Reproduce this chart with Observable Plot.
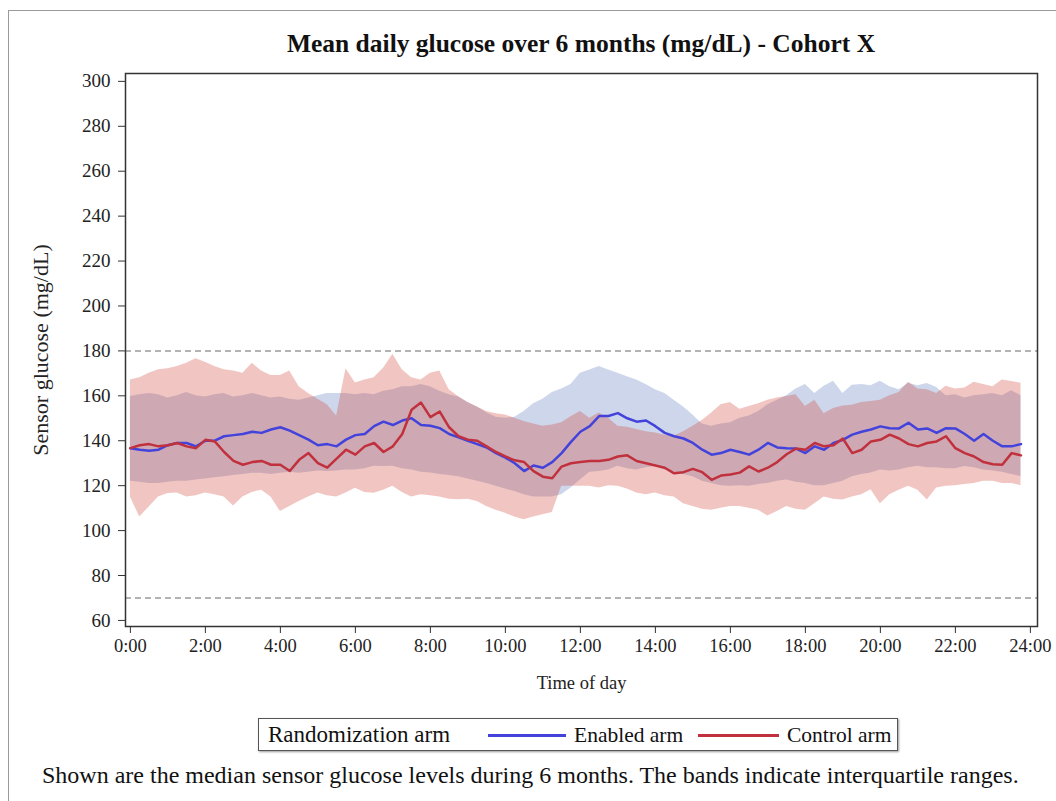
<!DOCTYPE html>
<html>
<head>
<meta charset="utf-8">
<script src="https://cdn.jsdelivr.net/npm/d3@7"></script>
<script src="https://cdn.jsdelivr.net/npm/@observablehq/plot@0.6"></script>
<style>
  body { margin: 0; background: #fff; font-family: "Liberation Serif", "Times New Roman", serif; color: #111; }
  #wrap { position: relative; width: 1056px; height: 801px; overflow: hidden; }
  #border { position: absolute; left: 8px; top: 10px; width: 1100px; height: 900px; border: 1px solid #9a9a9a; }
  #title { position: absolute; left: 125px; width: 912px; top: 29px; text-align: center; font-weight: bold; font-size: 25.5px; line-height: 30px; white-space: nowrap; }
  #chart { position: absolute; left: 0; top: 55px; }
  #legend { position: absolute; left: 258px; top: 718px; width: 640px; height: 33px; border: 1px solid #555; box-sizing: border-box; box-shadow: 1px 1px 2px #999; font-size: 21.5px; }
  #legend span { position: absolute; top: 3px; line-height: 26px; white-space: nowrap; }
  #legend i { position: absolute; top: 15px; height: 3px; display: block; }
  #caption { position: absolute; left: 42px; top: 761px; font-size: 24px; line-height: 28px; white-space: nowrap; }
</style>
</head>
<body>
<div id="wrap">
  <div id="border"></div>
  <div id="title"></div>
  <div id="chart"></div>
  <div id="legend"></div>
  <div id="caption"></div>
</div>
<script>
// ---- Data, 15-minute grid from 0:00 ----
const titleText = "Mean daily glucose over 6 months (mg/dL) - Cohort X";
const captionText = "Shown are the median sensor glucose levels during 6 months. The bands indicate interquartile ranges.";
const legendTitle = "Randomization arm";
const armNames = ["Enabled arm", "Control arm"];
const armColors = ["#4343dc", "#c0313d"];
const bandColors = ["#5876b9", "#d04134"];

const hours = d3.range(0, 24, 0.25);

const enabledMedian = [136.7,136,135.5,136, 138,139,139,137.5, 140,140,142,142.5, 143,144,143.5,145,
  146,144.5,142.5,140.5, 138,138.5,137.5,140.5, 142.5,143,146.5,148.5, 147,149,150,147,
  146.7,145.6,143,141.5, 140,138.5,137,134.5, 132.5,130,126.5,129, 128,130.5,134.5,139.5,
  144,146.5,151,151, 152.3,150,148.5,149, 146.5,143.5,142,141, 139,136,133.8,134.5,
  136,135,133.8,136, 139,137,136.7,136.5, 134.5,137.5,136,139, 140.4,142.7,144,145,
  146.4,145.6,145.5,148, 145,145.5,143.5,145.6, 145.5,143,140,143, 140,137.5,137.5,138.5];

const controlMedian = [136.7,138,138.5,137.5, 138,139,137.5,136.7, 140.4,139.7,135,131, 129.3,130.5,131,129.3,
  129.3,126.5,131.5,134.5, 130,128,132,136, 133.8,137.5,139,135, 137.5,143,153.8,157,
  150.5,153,146,142, 140.5,140,137.5,135, 133,131.3,130.5,126.5, 124,123.3,128.5,130,
  130.5,131,131,131.5, 133,133.5,131,130, 129,128,125.5,126, 127.5,126,122.6,124.5,
  125,125.8,128.6,126.3, 128,130.5,134,136.5, 136,139,137.5,138, 141,134.5,136,139.7,
  140.4,142.7,141,138.5, 137.5,139,139.7,142, 136.7,134.5,133,130.5, 129.5,129.3,134.5,133.5];

const enabledQ3 = [159.7,160.5,161,160.5, 159,160,161.5,160, 159.5,160.5,161,159.5, 160,161,160,159,
  159.5,158.5,158,159, 160,161,161,161, 160.5,161,160.5,162, 162.7,164,164,165,
  164,162,160.5,159.5, 157,155,152.5,150.5, 150,150.5,153,156.5, 158.5,161.5,163,165,
  170,171.5,173,171.5, 170,168.5,167,165, 162.7,161,158,155, 151.5,147.5,146.4,147.5,
  148,150,151,153, 156,158,160,163, 165,161,164.3,166.5, 161,164.7,165,164.5,
  166.5,164,162.7,165.6, 164.5,165.5,163.7,160, 160.5,159,160,160.5, 161,160,162.3,160];

const enabledQ1 = [122,121.5,121,121, 121.5,122,122,122.5, 123,123.5,124,124.5, 125,125.5,125.5,125,
  125.5,126,125.5,126, 126.5,126.3,126.5,127, 127,127.5,128.6,128.5, 128.6,127.5,127,126,
  125.6,125,124.5,124, 123,122,121,119.7, 118.5,117.4,116,115, 115,115,116,119,
  122.5,126,126.3,127, 128.6,127.5,127,128, 128.6,127,126,125, 124,122,121,120,
  119.7,120,119.7,120.5, 121,122,122.5,121.5, 121,120,120,121, 122,124,125,125.6,
  127,126.5,127,128, 128.6,128,128,127.5, 127.5,128.5,128,127, 126.5,126,125,124];

const controlQ3 = [167,168,170,171.6, 172,173,174.5,176.5, 175,173,171.6,171, 170,174.5,171,169,
  169,171,164,161, 158.5,156,151,172, 165.7,167,168,172.3, 178.5,171.6,168,167,
  170,171,162.7,159.7, 157,155,153,152, 151.5,150,148.6,147.5, 146.4,147,148,150.7,
  153,150,152.4,150, 146.4,146,145,144, 143.5,142.5,142,144, 146.4,149,152.4,156,
  157,154,155.3,156.5, 158,159,159.7,160.5, 155.3,158,152,154.3, 155.5,155.8,157,157.5,
  158,160,161.5,166, 163,162.7,161,164.3, 163,163.5,166,165, 164,167,166.4,165.6];

const controlQ1 = [115,106,110.5,115, 116.5,116.7,115,115.5, 116.7,116,115,111, 115,117,118,115,
  108.5,110.7,113,115, 116.7,115.5,115,116.7, 118.8,117,116.6,118, 119.7,117,115,116,
  115.5,115,114,113.7, 114,113,110.7,109, 107.7,106,104.8,106, 107,108,119.7,119.7,
  119.7,119.7,119,120, 119.7,118.5,116.7,116, 116.7,115.5,115,112, 110.7,109.5,109,110,
  110.7,110.7,110,109, 106.5,108.5,110.7,109.5, 109,112,115,114, 113.6,115,116,118.2,
  112,116,118,119.7, 118,113.6,119,119.7, 120,120.5,121,122, 122,121,121,120];

const referenceLines = [180, 70];
const yTicks = [60, 80, 100, 120, 140, 160, 180, 200, 220, 240, 260, 280, 300];
const xTicks = [0, 2, 4, 6, 8, 10, 12, 14, 16, 18, 20, 22, 24];
const xTickLabels = ["0:00","2:00","4:00","6:00","8:00","10:00","12:00","14:00","16:00","18:00","20:00","22:00","24:00"];

// ---- Build table ----
const rows = hours.map((h, i) => ({
  h, em: enabledMedian[i], cm: controlMedian[i],
  eq1: enabledQ1[i], eq3: enabledQ3[i], cq1: controlQ1[i], cq3: controlQ3[i]
}));

const chart = Plot.plot({
  width: 1056,
  height: 650,
  marginLeft: 125,
  marginRight: 19,
  marginTop: 18,
  marginBottom: 79,
  style: { fontFamily: "'Liberation Serif', 'Times New Roman', serif", fontSize: "18px", color: "#222", background: "transparent", overflow: "visible" },
  x: { domain: [-0.13, 24.19] },
  y: { domain: [57.3, 303.5] },
  marks: [
    Plot.areaY(rows, { x: "h", y1: "eq1", y2: "eq3", fill: bandColors[0], fillOpacity: 0.3, curve: "linear" }),
    Plot.areaY(rows, { x: "h", y1: "cq1", y2: "cq3", fill: bandColors[1], fillOpacity: 0.3, curve: "linear" }),
    Plot.ruleY(referenceLines, { stroke: "#9a9a9a", strokeWidth: 1.5, strokeDasharray: "6,4" }),
    Plot.line(rows, { x: "h", y: "em", stroke: armColors[0], strokeWidth: 2.5 }),
    Plot.line(rows, { x: "h", y: "cm", stroke: armColors[1], strokeWidth: 2.5 }),
    Plot.frame({ stroke: "#333", strokeWidth: 1.5 }),
    Plot.axisY({ ticks: yTicks, tickSize: 7, tickPadding: 8, label: null, stroke: "#333", fontSize: 19 }),
    Plot.axisX({ ticks: xTicks, tickSize: 7, tickPadding: 5, label: null, tickFormat: (d) => xTickLabels[xTicks.indexOf(d)], stroke: "#333", fontSize: 18.5 }),
    Plot.text(["Sensor glucose (mg/dL)"], { text: d => d, frameAnchor: "left", textAnchor: "middle", dx: -85, rotate: -90, fontSize: 22 }),
    Plot.text(["Time of day"], { text: d => d, frameAnchor: "bottom", dy: 62, fontSize: 18.5 })
  ]
});
document.getElementById("chart").appendChild(chart);

document.getElementById("title").textContent = titleText;
document.getElementById("caption").textContent = captionText;

const legend = document.getElementById("legend");
legend.innerHTML =
  `<span style="left:9px;font-size:23px">${legendTitle}</span>` +
  `<i style="left:229px;width:78px;background:${armColors[0]}"></i>` +
  `<span style="left:315px">${armNames[0]}</span>` +
  `<i style="left:439px;width:81px;background:${armColors[1]}"></i>` +
  `<span style="left:528px">${armNames[1]}</span>`;
</script>
</body>
</html>
